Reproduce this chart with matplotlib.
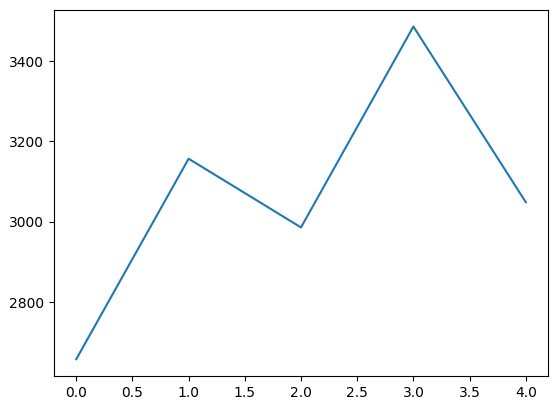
import matplotlib
matplotlib.use("Agg")
import matplotlib.pyplot as plt

# values
x = [0, 1, 2, 3, 4]
y = [2658, 3157, 2986, 3486, 3049]

fig = plt.figure(figsize=(5.6, 4.13), dpi=100)
ax = fig.add_axes([0.096, 0.090, 0.883, 0.886])
ax.plot(x, y)
fig.savefig("out.png", dpi=100)
